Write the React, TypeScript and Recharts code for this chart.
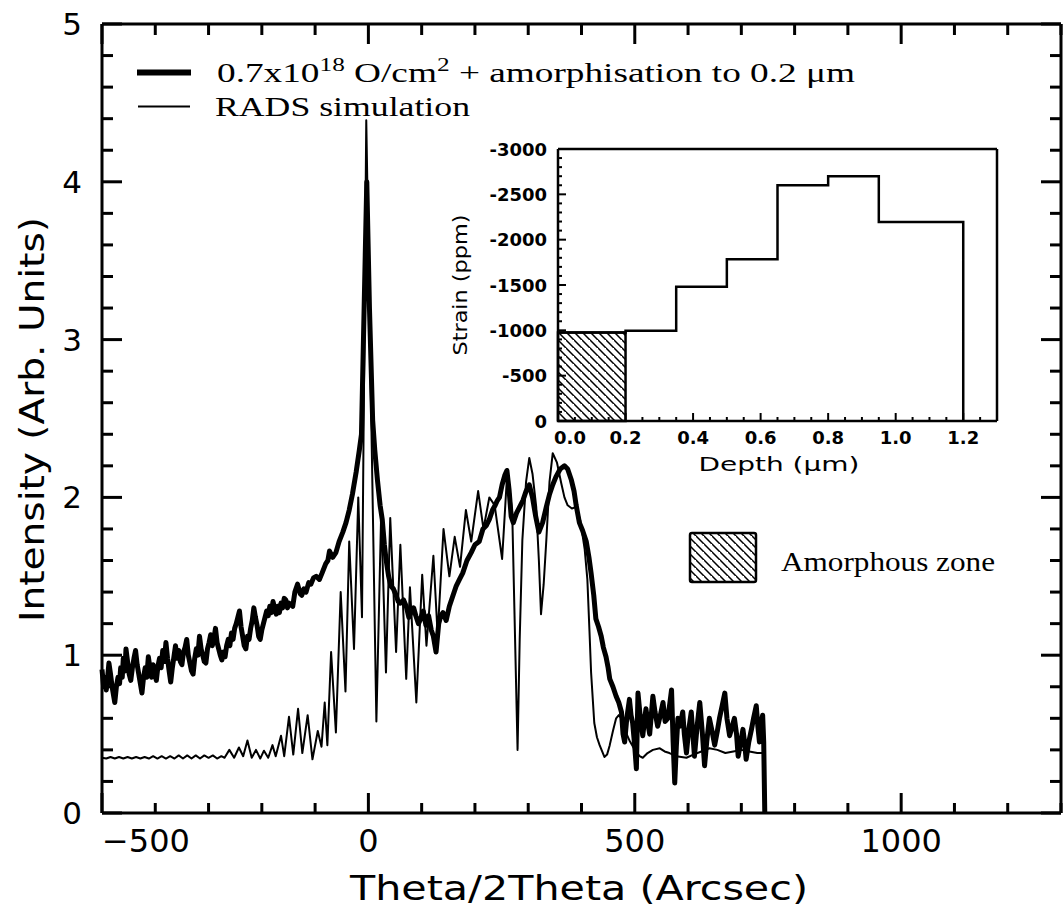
import React from 'react';
import { LineChart, Line, XAxis, YAxis, ReferenceArea } from 'recharts';

const measured: [number, number][] = [
  [-500,0.91],[-497,0.8],[-495,0.86],[-492,0.78],[-490,0.84],[-487,0.95],[-484,0.88],[-481,0.8],[-478,0.74],[-476,0.7],
  [-473,0.8],[-470,0.86],[-467,0.82],[-465,0.92],[-462,0.86],[-460,0.98],[-457,0.9],[-455,1.04],[-452,0.96],[-449,0.88],
  [-446,0.84],[-443,0.92],[-440,0.98],[-437,1.03],[-434,0.94],[-431,0.88],[-428,0.82],[-425,0.76],[-422,0.86],[-419,0.92],
  [-416,0.86],[-413,0.99],[-410,0.92],[-407,0.86],[-404,0.94],[-401,0.88],[-398,0.84],[-395,0.93],[-392,0.98],[-389,0.92],
  [-386,1.03],[-383,0.96],[-380,1.08],[-377,0.98],[-374,0.9],[-371,0.83],[-368,0.92],[-365,0.99],[-362,1.06],[-359,0.98],
  [-356,1.03],[-353,0.96],[-350,0.94],[-347,1.02],[-344,1.05],[-341,1.1],[-338,1.0],[-335,0.95],[-332,0.9],[-329,0.88],
  [-326,0.98],[-323,1.04],[-320,1.0],[-317,1.12],[-314,1.04],[-311,1.0],[-308,0.96],[-305,0.95],[-302,1.04],[-299,1.08],
  [-296,1.13],[-293,1.06],[-290,1.1],[-287,1.17],[-284,1.08],[-281,1.04],[-278,1.0],[-275,0.97],[-272,1.02],[-269,0.99],
  [-266,1.06],[-263,1.1],[-260,1.06],[-257,1.14],[-254,1.1],[-251,1.17],[-248,1.2],[-245,1.24],[-242,1.28],[-239,1.18],
  [-236,1.12],[-233,1.06],[-230,1.04],[-227,1.12],[-224,1.1],[-221,1.17],[-218,1.22],[-215,1.3],[-212,1.24],[-209,1.19],
  [-206,1.12],[-203,1.1],[-200,1.16],[-197,1.2],[-194,1.24],[-191,1.28],[-188,1.25],[-185,1.31],[-182,1.27],[-179,1.34],
  [-176,1.3],[-173,1.26],[-170,1.31],[-167,1.27],[-164,1.33],[-161,1.3],[-158,1.36],[-155,1.35],[-152,1.3],
  [-149,1.33],[-142,1.31],[-138,1.4],[-133,1.45],[-128,1.39],
  [-125,1.38],[-121,1.42],[-117,1.4],[-112,1.46],[-108,1.45],[-103,1.49],[-98,1.5],[-92,1.48],[-87,1.52],[-80,1.58],
  [-76,1.6],[-73,1.66],[-67,1.62],[-61,1.65],[-55,1.72],[-48,1.78],[-42,1.84],[-36,1.92],[-30,2.02],[-23,2.16],
  [-17,2.3],[-13,2.4],[-8,3.2],[-3,4.0],[2,3.2],[8,2.49],[12,2.3],[17,2.11],[22,1.95],[26,1.86],
  [30,1.7],[33,1.61],[38,1.5],[42,1.44],[47,1.42],[52,1.38],[56,1.34],[60,1.33],[66,1.35],[71,1.31],
  [76,1.24],[80,1.27],[85,1.3],[89,1.25],[94,1.2],[98,1.23],[103,1.28],[108,1.19],[113,1.25],[118,1.16],
  [122,1.12],[127,1.02],[132,1.2],[136,1.25],[140,1.27],[146,1.22],[152,1.31],[158,1.37],[165,1.44],[171,1.48],
  [177,1.52],[185,1.6],[193,1.65],[200,1.7],[208,1.72],[215,1.8],[221,1.82],[227,1.86],[233,1.92],[238,1.95],
  [242,1.98],[246,2.0],[251,2.08],[256,2.14],[260,2.17],[264,2.05],[268,1.88],[272,1.84],[278,1.9],[284,1.94],
  [290,1.98],[296,2.04],[302,2.08],[308,2.0],[314,1.88],[320,1.78],[327,1.84],[334,1.94],[340,2.02],[346,2.08],
  [352,2.13],[360,2.18],[368,2.2],[374,2.18],[381,2.11],[386,2.04],[390,1.95],[396,1.84],[402,1.79],[409,1.72],
  [414,1.62],[418,1.52],[423,1.38],[427,1.23],[432,1.18],[437,1.12],[441,1.05],[446,0.99],[450,0.92],[453,0.85],
  [459,0.8],[465,0.74],[470,0.7],[475,0.64],[478,0.5],[481,0.45],[485,0.6],[490,0.72],[493,0.62],[496,0.57],
  [500,0.42],[503,0.28],[506,0.76],[510,0.62],[515,0.49],[518,0.58],[521,0.66],[525,0.56],[528,0.5],[531,0.62],
  [534,0.74],[538,0.64],[543,0.55],[548,0.62],[553,0.7],[557,0.58],[562,0.6],[566,0.7],[569,0.78],[572,0.45],
  [575,0.19],[578,0.42],[581,0.6],[585,0.55],[590,0.64],[593,0.5],[597,0.38],[601,0.52],[606,0.64],[609,0.5],
  [612,0.36],[617,0.55],[622,0.7],[627,0.5],[631,0.3],[635,0.45],[640,0.6],[645,0.52],[650,0.43],[655,0.52],
  [659,0.6],[664,0.68],[669,0.76],[673,0.6],[678,0.49],[683,0.55],[687,0.6],[691,0.5],[694,0.36],[699,0.45],
  [703,0.53],[706,0.45],[709,0.34],[714,0.45],[719,0.53],[723,0.6],[728,0.68],[731,0.55],[734,0.45],[737,0.57],
  [740,0.62],[742,0.45],[744,0.0],
];

const simulation: [number, number][] = [
  [-500,0.35],[-492,0.345],[-484,0.355],[-476,0.345],[-468,0.355],[-460,0.345],[-452,0.355],[-444,0.345],[-436,0.355],[-428,0.345],
  [-420,0.355],[-412,0.345],[-404,0.36],[-396,0.345],[-388,0.36],[-380,0.345],[-372,0.36],[-364,0.345],[-356,0.365],[-348,0.345],
  [-340,0.365],[-332,0.345],[-324,0.365],[-316,0.345],[-308,0.365],[-300,0.35],[-292,0.365],[-284,0.345],[-276,0.36],[-270,0.35],
  [-261,0.4],[-252,0.35],[-243,0.415],[-235,0.36],[-227,0.46],[-219,0.35],[-211,0.4],[-203,0.345],[-196,0.395],[-188,0.35],
  [-180,0.43],[-174,0.36],[-164,0.49],[-158,0.36],[-149,0.61],[-141,0.37],[-132,0.66],[-124,0.38],[-114,0.62],[-105,0.34],
  [-95,0.52],[-88,0.42],[-82,0.7],[-77,0.43],[-70,1.02],[-61,0.51],[-52,1.4],[-43,0.77],[-36,1.72],[-27,1.04],
  [-19,2.0],[-12,1.24],[-4,4.39],[15,0.58],[24,1.9],[33,0.89],[41,1.87],[52,1.02],[60,1.7],[71,0.85],
  [78,1.43],[90,0.7],[101,1.51],[109,1.06],[122,1.63],[130,1.13],[141,1.8],[152,1.5],[162,1.75],[172,1.56],
  [183,1.92],[193,1.72],[206,2.04],[216,1.8],[227,2.0],[237,1.95],[251,1.61],[261,2.18],[270,1.9],[274,1.3],
  [280,0.4],[284,1.1],[289,1.73],[296,2.1],[302,2.25],[308,2.15],[315,1.94],[320,1.6],[324,1.26],[329,1.45],
  [334,1.73],[340,2.1],[346,2.28],[354,2.22],[362,2.09],[368,2.0],[374,1.95],[382,1.93],[390,1.94],[398,1.85],
  [406,1.67],[411,1.48],[415,1.15],[418,0.89],[424,0.57],[429,0.48],[434,0.43],[443,0.355],[448,0.37],[453,0.43],
  [459,0.52],[465,0.6],[470,0.62],[475,0.6],[482,0.52],[490,0.46],[500,0.4],[509,0.36],[515,0.35],[524,0.38],
  [534,0.4],[547,0.41],[556,0.39],[565,0.38],[578,0.36],[597,0.35],[610,0.37],[625,0.39],[640,0.41],[655,0.4],
  [670,0.38],[685,0.39],[700,0.4],[715,0.39],[730,0.38],[740,0.38],
];

const mainXTicks = [-500,-400,-300,-200,-100,0,100,200,300,400,500,600,700,800,900,1000,1100,1200,1300];
const mainXLabels = [-500, 0, 500, 1000];
const mainYTicks = [0,0.2,0.4,0.6,0.8,1,1.2,1.4,1.6,1.8,2,2.2,2.4,2.6,2.8,3,3.2,3.4,3.6,3.8,4,4.2,4.4,4.6,4.8,5];
const mainYLabels = [0, 1, 2, 3, 4, 5];

const depth = [0, 0.2, 0.35, 0.5, 0.65, 0.8, 0.95, 1.2];
const strain = [-975, -995, -1480, -1785, -2600, -2700, -2195, 0];
const amorphousZone = { from: 0, to: 0.2, strain: -975 };

const insetXTicks = [0,0.05,0.1,0.15,0.2,0.25,0.3,0.35,0.4,0.45,0.5,0.55,0.6,0.65,0.7,0.75,0.8,0.85,0.9,0.95,1,1.05,1.1,1.15,1.2,1.25,1.3];
const insetXLabels = [0, 0.2, 0.4, 0.6, 0.8, 1.0, 1.2];
const insetYTicks = [-3000,-2900,-2800,-2700,-2600,-2500,-2400,-2300,-2200,-2100,-2000,-1900,-1800,-1700,-1600,-1500,-1400,-1300,-1200,-1100,-1000,-900,-800,-700,-600,-500,-400,-300,-200,-100,0];
const insetYLabels = [-3000, -2500, -2000, -1500, -1000, -500, 0];

const measuredData = measured.map(([x, y]) => ({ x, y }));
const simulationData = simulation.map(([x, y]) => ({ x, y }));
const strainData = depth.map((d, i) => ({ x: d, y: strain[i] }));

const SANS = '"DejaVu Sans", sans-serif';
const SERIF = '"Liberation Serif", "Times New Roman", serif';
const near = (a: number, list: number[]) => list.some((b) => Math.abs(a - b) < 1e-6);
const TICK = '#000';

const MainBottomTick = (p: any) => {
  const { x, y, payload } = p;
  const v = payload.value;
  const major = near(v, mainXLabels);
  const txt = v < 0 ? '\u2212' + Math.abs(v) : String(v);
  return (
    <g>
      <path d={`M${x},${y}V${y - (major ? 20 : 10)}`} stroke={TICK} strokeWidth={3} fill="none" />
      {major && (
        <text x={x} y={y + 39} textAnchor={v === -500 ? 'start' : 'middle'} fontFamily={SANS} fontSize={32} fill="#000">{txt}</text>
      )}
    </g>
  );
};
const MainTopTick = (p: any) => {
  const { x, y, payload } = p;
  const major = near(payload.value, mainXLabels);
  return <path d={`M${x},${y}V${y + (major ? 20 : 11)}`} stroke={TICK} strokeWidth={3} fill="none" />;
};
const MainLeftTick = (p: any) => {
  const { x, y, payload } = p;
  const v = payload.value;
  const major = near(v, mainYLabels);
  return (
    <g>
      <path d={`M${x},${y}H${x + (major ? 20 : 11)}`} stroke={TICK} strokeWidth={3} fill="none" />
      {major && <text x={x - 20} y={y + 11} textAnchor="end" fontFamily={SANS} fontSize={31} fill="#000">{Math.round(v)}</text>}
    </g>
  );
};
const MainRightTick = (p: any) => {
  const { x, y, payload } = p;
  const major = near(payload.value, mainYLabels);
  return <path d={`M${x},${y}H${x - (major ? 20 : 11)}`} stroke={TICK} strokeWidth={3} fill="none" />;
};
const InsetBottomTick = (p: any) => {
  const { x, y, payload } = p;
  const v = payload.value;
  const major = near(v, insetXLabels);
  return (
    <g>
      <path d={`M${x},${y}V${y - (major ? 8 : 4)}`} stroke={TICK} strokeWidth={2} fill="none" />
      {major && <text x={v === 0 ? x + 12 : x} y={y + 23} textAnchor="middle" fontFamily={SANS} fontWeight="bold" fontSize={18} fill="#000">{v.toFixed(1)}</text>}
    </g>
  );
};
const InsetTopTick = (p: any) => {
  const { x, y, payload } = p;
  const major = near(payload.value, insetXLabels);
  return <path d={`M${x},${y}V${y + (major ? 8 : 4)}`} stroke={TICK} strokeWidth={2} fill="none" />;
};
const InsetLeftTick = (p: any) => {
  const { x, y, payload } = p;
  const v = payload.value;
  const major = near(v, insetYLabels);
  return (
    <g>
      <path d={`M${x},${y}H${x + (major ? 8 : 4)}`} stroke={TICK} strokeWidth={2} fill="none" />
      {major && <text x={x - 11} y={y + 6.5} textAnchor="end" fontFamily={SANS} fontWeight="bold" fontSize={18} fill="#000">{v}</text>}
    </g>
  );
};
const InsetRightTick = (p: any) => {
  const { x, y, payload } = p;
  const major = near(payload.value, insetYLabels);
  return <path d={`M${x},${y}H${x - (major ? 8 : 4)}`} stroke={TICK} strokeWidth={2} fill="none" />;
};

const frame = { stroke: '#000', strokeWidth: 3 };
const insetFrame = { stroke: '#000', strokeWidth: 2.5 };

export default function App() {
  return (
    <div style={{ position: 'absolute', left: 0, top: 0, width: 1064, height: 908, background: '#fff' }}>
      <div style={{ position: 'absolute', left: 0, top: 0 }}>
        <LineChart width={1064} height={908} margin={{ top: 0, right: 0, bottom: 0, left: 0 }}>
          <XAxis xAxisId={0} dataKey="x" type="number" orientation="bottom" domain={[-500, 1300]} ticks={mainXTicks}
            interval={0} height={95} tickSize={0} tickMargin={0} tickLine={false} axisLine={frame} tick={<MainBottomTick />} />
          <XAxis xAxisId={1} dataKey="x" type="number" orientation="top" domain={[-500, 1300]} ticks={mainXTicks}
            interval={0} height={24} tickSize={0} tickMargin={0} tickLine={false} axisLine={frame} tick={<MainTopTick />} />
          <YAxis yAxisId={0} type="number" orientation="left" domain={[0, 5]} ticks={mainYTicks} interval={0}
            width={102} tickSize={0} tickMargin={0} tickLine={false} axisLine={frame} tick={<MainLeftTick />} />
          <YAxis yAxisId={1} type="number" orientation="right" domain={[0, 5]} ticks={mainYTicks} interval={0}
            width={3} tickSize={0} tickMargin={0} tickLine={false} axisLine={frame} tick={<MainRightTick />} />
          <Line xAxisId={0} yAxisId={0} data={measuredData} dataKey="y" type="linear" stroke="#000" strokeWidth={5}
            strokeLinejoin="round" dot={false} isAnimationActive={false} />
          <Line xAxisId={1} yAxisId={1} data={simulationData} dataKey="y" type="linear" stroke="#000" strokeWidth={2}
            strokeLinejoin="round" dot={false} isAnimationActive={false} />
        </LineChart>
      </div>

      <div style={{ position: 'absolute', left: 430, top: 140 }}>
        <LineChart width={570} height={345} margin={{ top: 0, right: 0, bottom: 0, left: 0 }}>
          <XAxis xAxisId={0} dataKey="x" type="number" orientation="bottom" domain={[0, 1.3]} ticks={insetXTicks}
            interval={0} height={64} tickSize={0} tickMargin={0} tickLine={false} axisLine={insetFrame} tick={<InsetBottomTick />} />
          <XAxis xAxisId={1} dataKey="x" type="number" orientation="top" domain={[0, 1.3]} ticks={insetXTicks}
            interval={0} height={9} tickSize={0} tickMargin={0} tickLine={false} axisLine={insetFrame} tick={<InsetTopTick />} />
          <YAxis yAxisId={0} type="number" orientation="left" domain={[-3000, 0]} reversed ticks={insetYTicks} interval={0}
            width={128} tickSize={0} tickMargin={0} tickLine={false} axisLine={insetFrame} tick={<InsetLeftTick />} />
          <YAxis yAxisId={1} type="number" orientation="right" domain={[-3000, 0]} reversed ticks={insetYTicks} interval={0}
            width={3} tickSize={0} tickMargin={0} tickLine={false} axisLine={insetFrame} tick={<InsetRightTick />} />
          <ReferenceArea xAxisId={0} yAxisId={0} x1={amorphousZone.from} x2={amorphousZone.to} y1={0} y2={amorphousZone.strain}
            fill="url(#hatch)" fillOpacity={1} stroke="#000" strokeWidth={2.5} ifOverflow="visible" />
          <Line xAxisId={0} yAxisId={0} data={strainData} dataKey="y" type="stepAfter" stroke="#000" strokeWidth={2.5}
            dot={false} isAnimationActive={false} />
        </LineChart>
      </div>

      <svg width={1064} height={908} style={{ position: 'absolute', left: 0, top: 0, pointerEvents: 'none' }}>
        <defs>
          <pattern id="hatch" patternUnits="userSpaceOnUse" width={8} height={8}>
            <path d="M-2,-2 L10,10 M-6,2 L2,10 M6,-6 L14,2" stroke="#000" strokeWidth={1.5} />
          </pattern>
        </defs>
        <line x1={137} y1={72.5} x2={191} y2={72.5} stroke="#000" strokeWidth={6} />
        <line x1={138} y1={106.5} x2={190} y2={106.5} stroke="#000" strokeWidth={2} />
        <text x={217} y={82} fontFamily={SERIF} fontSize={28} fill="#000" textLength={638} lengthAdjust="spacingAndGlyphs">
          0.7x10<tspan fontSize={19} dy={-11}>18</tspan><tspan dy={11}> O/cm</tspan><tspan fontSize={19} dy={-11}>2</tspan><tspan dy={11}> + amorphisation to 0.2 {'\u03bc'}m</tspan>
        </text>
        <text x={215} y={116} fontFamily={SERIF} fontSize={28} fill="#000" textLength={255} lengthAdjust="spacingAndGlyphs">RADS simulation</text>
        <rect x={690} y={533} width={66} height={49} rx={2} fill="url(#hatch)" stroke="#000" strokeWidth={2.5} />
        <text x={781} y={571} fontFamily={SERIF} fontSize={28} fill="#000" textLength={214} lengthAdjust="spacingAndGlyphs">Amorphous zone</text>
        <text x={579} y={900} textAnchor="middle" fontFamily={SANS} fontSize={33} fill="#000" textLength={458}
          lengthAdjust="spacingAndGlyphs">Theta/2Theta (Arcsec)</text>
        <text x={44} y={419.5} textAnchor="middle" fontFamily={SANS} fontSize={33} fill="#000" textLength={405}
          lengthAdjust="spacingAndGlyphs" transform="rotate(-90 44 419.5)">Intensity (Arb. Units)</text>
        <text x={779} y={471} textAnchor="middle" fontFamily={SANS} fontSize={20} fill="#000" textLength={161}
          lengthAdjust="spacingAndGlyphs">Depth ({'\u03bc'}m)</text>
        <text x={467} y={285} textAnchor="middle" fontFamily={SANS} fontSize={20} fill="#000" textLength={141}
          lengthAdjust="spacingAndGlyphs" transform="rotate(-90 467 285)">Strain (ppm)</text>
      </svg>
    </div>
  );
}
